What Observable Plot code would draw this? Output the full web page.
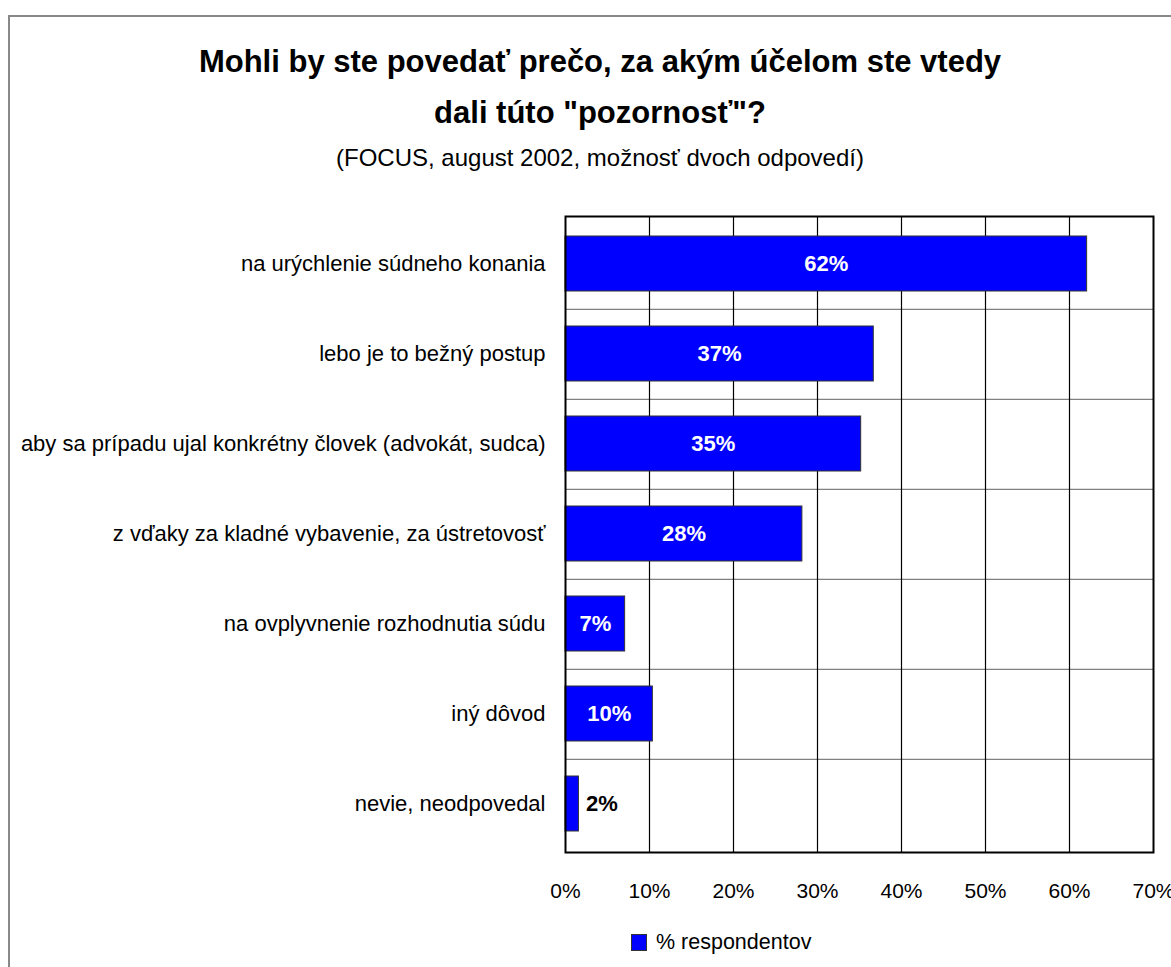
<!DOCTYPE html>
<html>
<head>
<meta charset="utf-8">
<script src="https://cdn.jsdelivr.net/npm/d3@7"></script>
<script src="https://cdn.jsdelivr.net/npm/@observablehq/plot@0.6"></script>
<style>
  html, body { margin: 0; padding: 0; background: #fff; overflow: hidden; }
  body { width: 1171px; height: 967px; position: relative; font-family: Arial, "Liberation Sans", sans-serif; }
  #frame { position: absolute; left: 8px; top: 15px; width: 1300px; height: 1100px; border: 2px solid #888; box-sizing: border-box; }
  .t { position: absolute; left: 0; width: 1200px; text-align: center; white-space: nowrap; color: #000; }
  #title1, #title2 { font-weight: bold; font-size: 31px; line-height: 31px; }
  #title1 { top: 46px; }
  #title2 { top: 97px; }
  #subtitle { top: 146px; font-size: 24px; line-height: 24px; }
  #chart { position: absolute; left: 0; top: 190px; }
  #legend { position: absolute; left: 631px; top: 930px; font-size: 21.5px; line-height: 24px; display: flex; align-items: center; }
  #legend .sw { width: 14px; height: 15px; background: #0000ff; border: 1px solid #333; margin-right: 9px; }
</style>
</head>
<body>
<div id="frame"></div>
<div class="t" id="title1">Mohli by ste povedať prečo, za akým účelom ste vtedy</div>
<div class="t" id="title2">dali túto "pozornosť"?</div>
<div class="t" id="subtitle">(FOCUS, august 2002, možnosť dvoch odpovedí)</div>
<div id="chart"></div>
<div id="legend"><div class="sw"></div><span>% respondentov</span></div>
<script>
const categories = [
  "na urýchlenie súdneho konania",
  "lebo je to bežný postup",
  "aby sa prípadu ujal konkrétny človek (advokát, sudca)",
  "z vďaky za kladné vybavenie, za ústretovosť",
  "na ovplyvnenie rozhodnutia súdu",
  "iný dôvod",
  "nevie, neodpovedal"
];
const values = [62.1, 36.7, 35.2, 28.2, 7.1, 10.4, 1.6];
const valueLabels = ["62%", "37%", "35%", "28%", "7%", "10%", "2%"];
const xTicks = [0, 10, 20, 30, 40, 50, 60, 70];

const data = categories.map((c, i) => ({ category: c, value: values[i], label: valueLabels[i] }));

const W = 1171, H = 725;
const mL = 565, mR = W - 1153, mT = 26, mB = 63;
const innerH = H - mT - mB;
const step = innerH / categories.length;

const font = 'Arial, "Liberation Sans", sans-serif';

const chart = Plot.plot({
  width: W,
  height: H,
  marginLeft: mL,
  marginRight: mR,
  marginTop: mT,
  marginBottom: mB,
  style: { fontFamily: font, fontSize: "22px", color: "#000", background: "transparent", overflow: "visible" },
  x: { domain: [0, 70], ticks: xTicks, label: null },
  y: { domain: categories, paddingInner: 0.384, paddingOuter: 0.192, label: null },
  marks: [
    // horizontal row separators (between categories)
    Plot.ruleY(categories.slice(0, -1), { y: d => d, dy: step / 2, stroke: "#808080", strokeWidth: 1.3 }),
    // vertical gridlines
    Plot.ruleX(xTicks.slice(1, -1), { x: d => d, stroke: "#000", strokeWidth: 1.2 }),
    Plot.barX(data, { x: "value", y: "category", fill: "#0000ff", stroke: "#333", strokeWidth: 1 }),
    Plot.text(data.filter(d => d.value >= 5), {
      x: d => d.value / 2, y: "category", text: "label",
      fill: "#fff", fontWeight: "bold", fontSize: 22
    }),
    Plot.text(data.filter(d => d.value < 5), {
      x: "value", y: "category", text: "label", dx: 7, textAnchor: "start",
      fill: "#000", fontWeight: "bold", fontSize: 22
    }),
    Plot.frame({ stroke: "#000", strokeWidth: 2 }),
    Plot.axisX(xTicks, { tickSize: 0, tickPadding: 31, tickFormat: d => d + "%", fontSize: 21, label: null }),
    Plot.axisY({ tickSize: 0, tickPadding: 20, fontSize: 22, label: null })
  ]
});
document.getElementById("chart").appendChild(chart);
</script>
</body>
</html>
